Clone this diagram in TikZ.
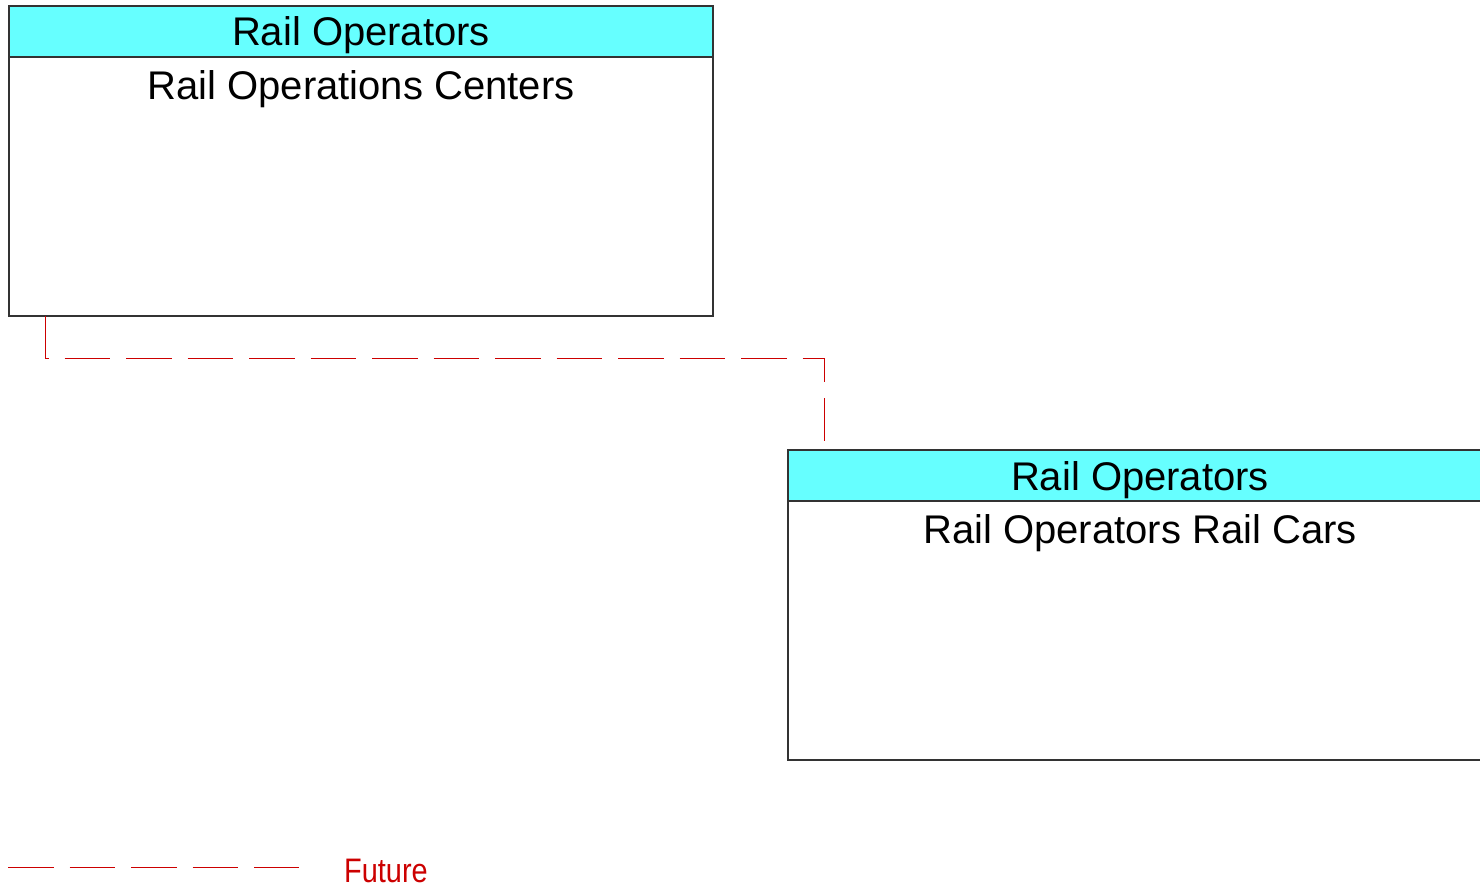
\documentclass[tikz,border=0pt]{standalone}
\usepackage{fontspec}
\setmainfont{Liberation Sans}
\newfontfamily\legendfont[FakeStretch=0.85]{Liberation Sans}
\usetikzlibrary{positioning,calc}
\definecolor{hdrcyan}{HTML}{66FFFF}
\definecolor{futurered}{HTML}{CC0000}
\definecolor{boxline}{HTML}{333333}
\tikzset{
  hdrbox/.style={draw=boxline,line width=1.3pt,fill=hdrcyan,minimum width=704,
    minimum height=51,inner sep=0pt,outer sep=0pt,text depth=0pt,
    font=\fontsize{40}{48}\selectfont},
  bodybox/.style={draw=boxline,line width=1.3pt,fill=white,minimum width=704,
    minimum height=259,inner sep=0pt,outer sep=0pt},
  bodytext/.style={anchor=north,inner sep=13.5pt,font=\fontsize{40}{48}\selectfont},
  future/.style={draw=futurered,line width=1pt,dash pattern=on 45.5pt off 16pt},
}
\begin{document}
\begin{tikzpicture}[x=1pt,y=-1pt]
        \useasboundingbox (0,0) rectangle (1480,887);
        % rail operations centers
        \node[hdrbox,anchor=north west](roc_hdr)at(9,6){Rail Operators};
        \node[bodybox,below=0pt of roc_hdr,
          label={[bodytext]north:Rail Operations Centers}](roc){};
        % rail cars
        \node[hdrbox,anchor=north west](rrc_hdr)at(788,450){Rail Operators};
        \node[bodybox,below=0pt of rrc_hdr,
          label={[bodytext]north:Rail Operators Rail Cars}](rrc){};
        % flow between them
        \draw[future]($(roc.south west)+(36,0)$)--++(0,42)
          -|($(rrc_hdr.north west)+(36,-9)$);
        % legend
        \coordinate(lg_a)at(8,867);
        \coordinate(lg_b)at(299,867);
        \draw[future](lg_a)--(lg_b);
        \node[anchor=base west,inner sep=0pt,text=futurered,
          font=\legendfont\fontsize{34}{40}\selectfont](lg_txt)at(344,882){Future};
      \end{tikzpicture}
\end{document}
